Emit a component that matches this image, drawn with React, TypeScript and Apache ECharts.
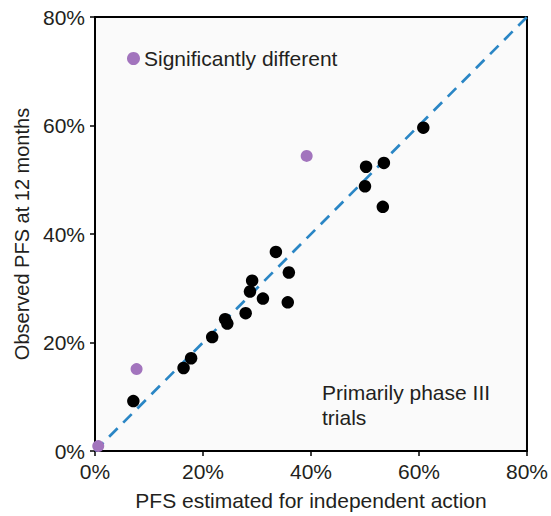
import React, { useEffect, useRef } from "react";
import * as echarts from "echarts";

const axisTicks = [0, 20, 40, 60, 80];

// Primarily phase III trials (not significantly different)
const trialX = [60.8, 50.2, 53.5, 50.0, 53.3, 33.5, 35.9, 29.1, 28.7, 31.1, 35.7, 27.9, 24.1, 24.5, 21.7, 17.8, 16.4, 7.1];
const trialY = [59.6, 52.4, 53.1, 48.8, 45.0, 36.7, 32.9, 31.4, 29.4, 28.1, 27.4, 25.4, 24.3, 23.5, 21.0, 17.1, 15.3, 9.2];

// Significantly different
const sigX = [39.2, 7.7, 0.6];
const sigY = [54.4, 15.1, 0.9];

const identityLine = [0, 80];

const FONT = "Liberation Sans, Arial, Helvetica, sans-serif";
const TEXT = "#231f20";

export default function App() {
  const ref = useRef<HTMLDivElement>(null);
  useEffect(() => {
    document.body.style.margin = "0";
    if (!ref.current) return;
    const chart = echarts.init(ref.current, null, { renderer: "svg" });
    const axisCommon = {
      type: "value" as const,
      min: axisTicks[0],
      max: axisTicks[axisTicks.length - 1],
      interval: 20,
      axisLine: { show: true, onZero: false, lineStyle: { color: "#000", width: 2 } },
      axisTick: { show: true, inside: false, length: 5, lineStyle: { color: "#000", width: 1.5 } },
      splitLine: { show: false },
      axisLabel: {
        formatter: "{value}%",
        color: TEXT,
        fontSize: 21,
        fontFamily: FONT,
        margin: 10,
      },
      nameLocation: "middle" as const,
    };
    chart.setOption({
      animation: false,
      backgroundColor: "#fff",
      grid: {
        left: 95,
        right: 21,
        top: 17,
        bottom: 63,
        show: true,
        backgroundColor: "#fafafa",
        borderColor: "#000",
        borderWidth: 2,
      },
      xAxis: {
        ...axisCommon,
        name: "PFS estimated for independent action",
        nameGap: 39,
        nameTextStyle: { color: TEXT, fontSize: 21, fontFamily: FONT },
      },
      yAxis: {
        ...axisCommon,
        name: "Observed PFS at 12 months",
        nameGap: 63,
        nameTextStyle: { color: TEXT, fontSize: 20, fontFamily: FONT },
      },
      legend: {
        show: true,
        data: ["Significantly different"],
        left: 122,
        top: 43,
        icon: "circle",
        itemWidth: 13,
        itemHeight: 13,
        itemGap: 6,
        textStyle: { color: TEXT, fontSize: 21, fontFamily: FONT, padding: [0, 0, 0, -1] },
      },
      graphic: [
        {
          type: "text",
          left: 322,
          top: 380,
          style: {
            text: "Primarily phase III\ntrials",
            fill: TEXT,
            fontSize: 21,
            fontFamily: FONT,
            lineHeight: 25,
          },
        },
      ],
      series: [
        {
          type: "line",
          name: "Identity",
          data: identityLine.map((v) => [v, v]),
          symbol: "none",
          lineStyle: { color: "#2a86c5", width: 2.7, type: [12, 8] },
          z: 1,
        },
        {
          type: "scatter",
          name: "Primarily phase III trials",
          data: trialX.map((x, i) => [x, trialY[i]]),
          symbol: "circle",
          symbolSize: 12.5,
          itemStyle: { color: "#000", opacity: 1 },
          z: 2,
        },
        {
          type: "scatter",
          name: "Significantly different",
          data: sigX.map((x, i) => [x, sigY[i]]),
          symbol: "circle",
          symbolSize: 12,
          itemStyle: { color: "#a274bd", opacity: 1 },
          z: 2,
        },
      ],
    });
    return () => chart.dispose();
  }, []);
  return <div ref={ref} style={{ width: 551, height: 516 }} />;
}
